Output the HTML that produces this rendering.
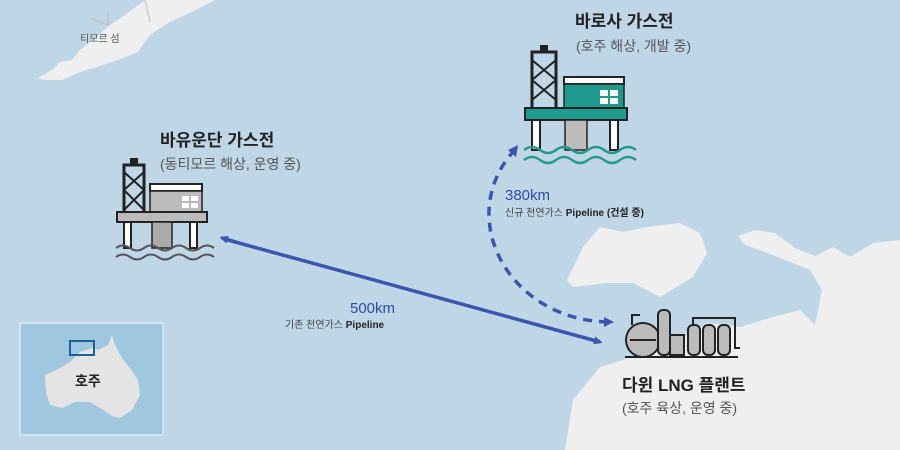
<!DOCTYPE html>
<html><head><meta charset="utf-8"><style>
html,body{margin:0;padding:0;width:900px;height:450px;overflow:hidden;background:#bfd6e6}
svg text{font-family:"Liberation Sans","Noto Sans CJK KR",sans-serif}
</style></head><body>
<svg width="900" height="450" viewBox="0 0 900 450" xmlns="http://www.w3.org/2000/svg">
<rect width="900" height="450" fill="#bfd6e6"/>
<!-- Timor -->
<path d="M38,78 L52,70 L60,62 L72,60 L80,50 L95,38 L110,25 L125,15 L145,0 L215,0 L200,8 L170,22 L150,35 L138,52 L118,60 L100,66 L80,72 L62,80 L45,80 Z" fill="#efefef"/>
<path d="M90,18 L108,25 L108,12 M145,0 L150,22" stroke="#bbb" fill="none" stroke-width="1"/>
<text x="80" y="42" font-size="10" fill="#555">티모르 섬</text>
<!-- island -->
<path d="M567,280 L583,247 L600,227 L623,232 L647,227 L680,223 L700,233 L707,253 L693,277 L660,297 L633,283 L607,283 L573,287 Z" fill="#efefef"/>
<!-- mainland -->
<path d="M565,450 L573,400 L600,367 L623,360 L673,343 L707,323 L740,327 L773,317 L800,310 L815,325 L822,290 L810,270 L790,262 L765,252 L745,245 L738,236 L755,230 L775,233 L795,248 L815,256 L833,247 L850,257 L873,243 L900,240 L900,450 Z" fill="#efefef"/>
<!-- inset -->
<rect x="20" y="323" width="143" height="112" fill="#9fc8e0" stroke="#d0e4ef" stroke-width="2"/>
<path d="M45,375 L60,368 L70,362 L80,352 L92,348 L98,350 L108,345 L112,335 L115,345 L122,358 L130,368 L138,380 L140,395 L132,410 L120,418 L112,416 L100,408 L90,402 L75,402 L62,408 L50,405 L46,392 Z" fill="#e4e4e4"/>
<rect x="70" y="341" width="24" height="14" fill="none" stroke="#1f5f98" stroke-width="2"/>
<text x="75" y="386" font-size="14" font-weight="bold" fill="#222">호주</text>
<!-- arrows -->
<defs>
<marker id="ah" markerWidth="8" markerHeight="8" refX="6" refY="4" orient="auto" markerUnits="userSpaceOnUse"><path d="M0,0 L9,4 L0,8 Z" fill="#3a57b0"/></marker>
</defs>
<line x1="228" y1="240" x2="600" y2="342" stroke="#3a57b0" stroke-width="3.5" marker-end="url(#ah)"/>
<path d="M236,242 L222,238" stroke="#3a57b0" stroke-width="3.5" marker-end="url(#ah)"/>
<path d="M608,322 C510,320 455,220 512,153" stroke="#3a57b0" stroke-width="3.5" fill="none" stroke-dasharray="9,7"/>
<path d="M604,317 L614,322 L604,327 Z" fill="#3a57b0"/>
<path d="M508,150 L518,145 L516,157 Z" fill="#3a57b0"/>
<text x="505" y="200" font-size="15" fill="#2e4da6">380km</text>
<text x="505" y="216" font-size="10" fill="#444">신규 천연가스 <tspan font-weight="bold" fill="#222">Pipeline (건설 중)</tspan></text>
<text x="350" y="313" font-size="15" fill="#2e4da6">500km</text>
<text x="285" y="328" font-size="10" fill="#444">기존 천연가스 <tspan font-weight="bold" fill="#222">Pipeline</tspan></text>
<!-- Barossa -->
<text x="575" y="27" font-size="17" font-weight="bold" fill="#222">바로사 가스전</text>
<text x="576" y="51" font-size="14" fill="#555">(호주 해상, 개발 중)</text>
<g>
<rect x="532" y="52" width="24" height="58" fill="none" stroke="#222" stroke-width="3"/>
<path d="M532,60 L556,80 M556,60 L532,80 M532,80 L556,100 M556,80 L532,100" stroke="#222" stroke-width="2"/>
<rect x="540" y="45" width="8" height="8" fill="#222"/>
<rect x="564" y="77" width="60" height="7" fill="#fff" stroke="#222" stroke-width="2"/>
<rect x="564" y="84" width="60" height="28" fill="#1f9a8c" stroke="#222" stroke-width="1.5"/>
<rect x="600" y="90" width="18" height="14" fill="#fff"/>
<path d="M600,97 L618,97 M609,90 L609,104" stroke="#1f9a8c" stroke-width="2"/>
<rect x="525" y="108" width="102" height="12" fill="#1f9a8c" stroke="#222" stroke-width="2"/>
<rect x="532" y="120" width="8" height="30" fill="#fff" stroke="#222" stroke-width="2"/>
<rect x="610" y="120" width="8" height="30" fill="#fff" stroke="#222" stroke-width="2"/>
<rect x="565" y="120" width="22" height="30" fill="#bbb" stroke="#222" stroke-width="1.5"/>
<path d="M524,150 q8,-6 16,0 t16,0 t16,0 t16,0 t16,0 t16,0 t16,0 M524,160 q8,-6 16,0 t16,0 t16,0 t16,0 t16,0 t16,0 t16,0" stroke="#1f9a8c" stroke-width="2.5" fill="none"/>
</g>
<!-- Bayu-Undan -->
<text x="160" y="146" font-size="17" font-weight="bold" fill="#222">바유운단 가스전</text>
<text x="160" y="169" font-size="14" fill="#555">(동티모르 해상, 운영 중)</text>
<g>
<rect x="124" y="165" width="20" height="50" fill="none" stroke="#222" stroke-width="3"/>
<path d="M124,172 L144,190 M144,172 L124,190 M124,190 L144,210 M144,190 L124,210" stroke="#222" stroke-width="2"/>
<rect x="130" y="158" width="8" height="8" fill="#222"/>
<rect x="150" y="184" width="52" height="7" fill="#fff" stroke="#222" stroke-width="2"/>
<rect x="150" y="191" width="52" height="24" fill="#bbb" stroke="#222" stroke-width="1.5"/>
<rect x="182" y="196" width="16" height="12" fill="#fff"/>
<path d="M182,202 L198,202 M190,196 L190,208" stroke="#bbb" stroke-width="2"/>
<rect x="117" y="212" width="90" height="10" fill="#bbb" stroke="#222" stroke-width="2"/>
<rect x="124" y="222" width="7" height="26" fill="#fff" stroke="#222" stroke-width="2"/>
<rect x="190" y="222" width="7" height="26" fill="#fff" stroke="#222" stroke-width="2"/>
<rect x="152" y="222" width="20" height="26" fill="#aaa" stroke="#222" stroke-width="1.5"/>
<path d="M116,248 q7,-5 14,0 t14,0 t14,0 t14,0 t14,0 t14,0 t14,0 M116,257 q7,-5 14,0 t14,0 t14,0 t14,0 t14,0 t14,0 t14,0" stroke="#555" stroke-width="2" fill="none"/>
</g>
<!-- LNG plant -->
<g stroke="#222" stroke-width="2">
<circle cx="643" cy="340" r="17" fill="#bbb"/>
<path d="M630,340 L656,340" />
<rect x="658" y="310" width="12" height="45" rx="5" fill="#bbb"/>
<rect x="670" y="335" width="14" height="20" fill="#bbb"/>
<rect x="688" y="325" width="12" height="30" rx="5" fill="#bbb"/>
<rect x="703" y="325" width="12" height="30" rx="5" fill="#bbb"/>
<rect x="718" y="325" width="12" height="30" rx="5" fill="#bbb"/>
<path d="M693,325 L693,318 L735,318 L735,348 L740,348 M632,325 L632,315 L640,315" fill="none"/>
<line x1="625" y1="357" x2="738" y2="357"/>
</g>
<text x="622" y="391" font-size="17" font-weight="bold" fill="#222">다윈 LNG 플랜트</text>
<text x="622" y="413" font-size="14" fill="#555">(호주 육상, 운영 중)</text>
</svg>
</body></html>
